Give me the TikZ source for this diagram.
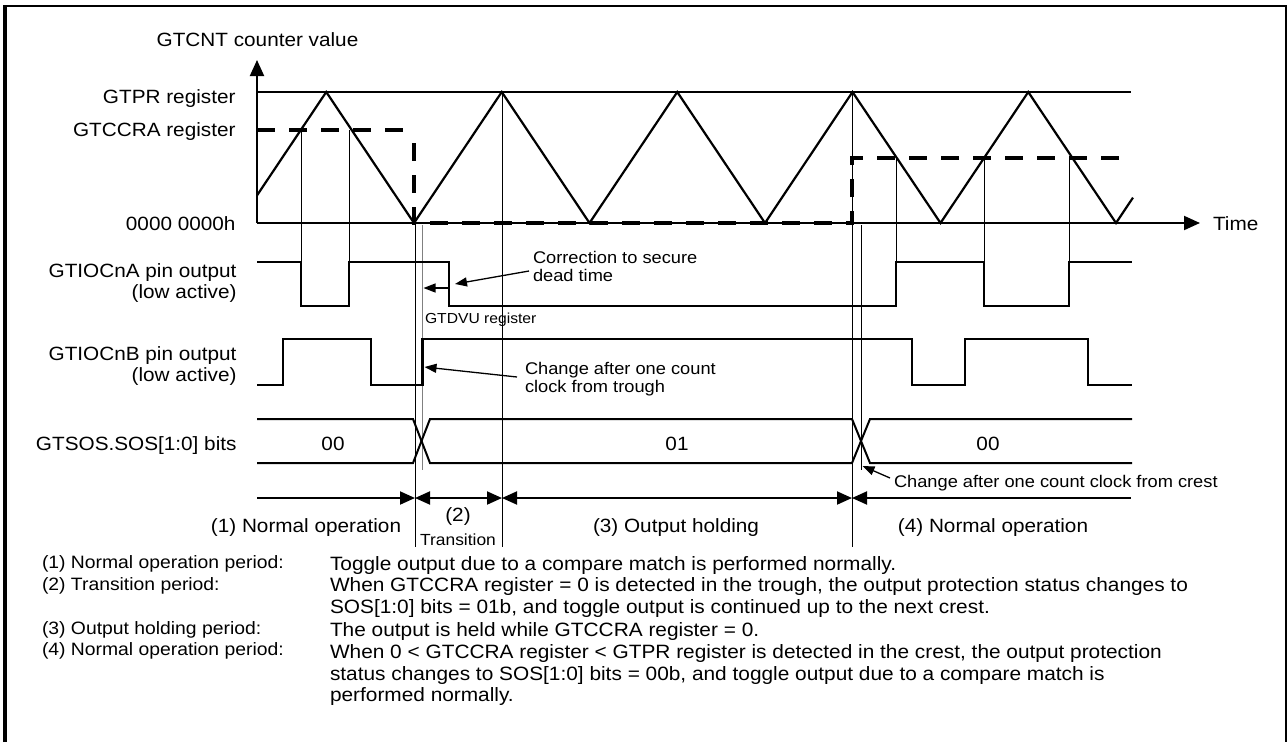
\documentclass[tikz,border=0pt]{standalone}
\usepackage{fontspec}
\setmainfont{Liberation Sans}[FakeStretch=1.08]
\usetikzlibrary{arrows.meta}
\newcommand\myfs[2]{\fontsize{#1}{#2}\selectfont}
\tikzset{dtip/.tip={Triangle[length=15pt,width=13pt]}}
\begin{document}
\begin{tikzpicture}[x=1pt,y=-1pt,
  every node/.style={inner sep=0pt, outer sep=0pt},
  lbl/.style={font=\myfs{19.2}{20.7}},
  ann/.style={font=\myfs{16.9}{17.7}},
  sml/.style={font=\myfs{14.5}{16}},
  trn/.style={font=\myfs{16.1}{17}},
  txtl/.style={font=\myfs{17.9}{21.9}},
  txt/.style={font=\myfs{19.3}{21.9}},
  wave/.style={line width=2.4pt, line join=miter},
  sos/.style={line width=2pt, line join=miter},
  fine/.style={line width=1pt},
  dsh/.style={line width=4.6pt, dash pattern=on 18pt off 14pt},
  axis/.style={line width=2pt, -{Triangle[length=16pt,width=14pt]}},
  dim/.style={line width=1.9pt},
  pointer/.style={line width=1.3pt, -{Triangle[length=12pt,width=9pt]}},
]
\useasboundingbox (0,0) rectangle (1288,742);

% frame
\draw[line width=3.3pt] (5,742) -- (5,6.2);
\draw[line width=2.4pt] (3.35,6.2) -- (1286.5,6.2);
\draw[line width=2pt] (1285.5,5) -- (1285.5,742);

% axes
\coordinate (O) at (257,223);
\coordinate (Ytop) at (257,60);
\coordinate (Xend) at (1200,223);
\draw[axis] (O) -- (Ytop);
\draw[axis] (O) -- (Xend);

% GTPR level
\coordinate (prA) at (257,92);
\coordinate (prB) at (1131,92);
\draw[line width=1.8pt] (prA) -- (prB);

% labels left
\node[lbl, anchor=base] (ylab) at (257.5,46.7) {GTCNT counter value};
\node[lbl, anchor=base east] (gtpr) at (235.5,103.3) {GTPR register};
\node[lbl, anchor=base east] (gtccra) at (235.5,136.5) {GTCCRA register};
\node[lbl, anchor=base east] (zero) at (235.5,230) {0000 0000h};
\node[lbl, anchor=base west] (time) at (1213,230.7) {Time};
\node[lbl, anchor=base east] (a1) at (236.5,277.7) {GTIOCnA pin output};
\node[lbl, anchor=base east] (a2) at (236.5,298.3) {(low active)};
\node[lbl, anchor=base east] (b1) at (236.5,360.7) {GTIOCnB pin output};
\node[lbl, anchor=base east] (b2) at (236.5,381.7) {(low active)};
\node[lbl, anchor=base east] (s1) at (236.5,450.7) {GTSOS.SOS[1:0] bits};

% triangle counter
\draw[line width=2.2pt, line join=miter] (257,195.4) -- (326.25,92) -- (414,223) -- (501.75,92)
  -- (589.5,223) -- (677.25,92) -- (765,223) -- (852.5,92) -- (940.5,223)
  -- (1028.25,92) -- (1116,223) -- (1133,197.6);

% GTCCRA compare level (dashed)
\draw[dsh] (257,130) -- (405,130);
\draw[dsh, line join=miter] (414,143) -- (414,223) -- (852,223) -- (852,158) -- (1131,158);

% thin marker lines
\draw[fine] (301,130) -- (301,262);
\draw[fine] (349,130) -- (349,262);
\draw[fine] (896,158) -- (896,262);
\draw[fine] (984,158) -- (984,262);
\draw[fine] (1069,158) -- (1069,262);
\draw[fine] (415,223) -- (415,546.5);
\draw[fine] (502,92) -- (502,546.5);
\draw[fine] (852,92) -- (852,546.5);
\draw[line width=1.2pt, black!50] (422.5,225) -- (422.5,470);
\draw[fine] (861.5,225) -- (861.5,470);

% GTIOCnA
\draw[wave] (257,262) -- (301,262) -- (301,306) -- (349,306) -- (349,262) -- (449,262)
  -- (449,306) -- (896,306) -- (896,262) -- (984,262) -- (984,306) -- (1069,306)
  -- (1069,262) -- (1132,262);

% GTIOCnB
\draw[wave] (257,385) -- (283,385) -- (283,339) -- (371,339) -- (371,385) -- (422.5,385)
  -- (422.5,339) -- (912,339) -- (912,385) -- (965,385) -- (965,339) -- (1088,339)
  -- (1088,385) -- (1132,385);

% GTSOS bits
\draw[sos] (257,419) -- (413,419) -- (430,463) -- (852,463) -- (870,419) -- (1132,419);
\draw[sos] (257,463) -- (413,463) -- (430,419) -- (852,419) -- (870,463) -- (1132,463);
\node[lbl, anchor=base] (v00a) at (333,450.7) {00};
\node[lbl, anchor=base] (v01) at (677,450.7) {01};
\node[lbl, anchor=base] (v00b) at (988,450.7) {00};

% annotations
\node[ann, anchor=base west] (corr1) at (533,263.3) {Correction to secure};
\node[ann, anchor=base west] (corr2) at (533,281) {dead time};
\coordinate (corrS) at (529,271);
\coordinate (corrT) at (455,284);
\draw[pointer] (corrS) -- (corrT);
\coordinate (dvS) at (449,288);
\coordinate (dvT) at (423.5,288);
\draw[pointer] (dvS) -- (dvT);
\node[sml, anchor=base west] (dvu) at (425,323.3) {GTDVU register};
\node[ann, anchor=base west] (tr1) at (525,374) {Change after one count};
\node[ann, anchor=base west] (tr2) at (525,392.7) {clock from trough};
\coordinate (trS) at (517,377);
\coordinate (trT) at (424.5,367);
\draw[pointer] (trS) -- (trT);
\node[ann, anchor=base west] (cr) at (894,487.3) {Change after one count clock from crest};
\coordinate (crS) at (890,478);
\coordinate (crT) at (862.5,466);
\draw[pointer] (crS) -- (crT);

% period dimension arrows
\coordinate (p0) at (257,498);
\coordinate (p1) at (415,498);
\coordinate (p2) at (502,498);
\coordinate (p3) at (852,498);
\coordinate (p4) at (1131,498);
\draw[dim, -dtip] (p0) -- (p1);
\draw[dim, dtip-dtip] (p1) -- (p2);
\draw[dim, dtip-dtip] (p2) -- (p3);
\draw[dim, dtip-] (p3) -- (p4);
\node[lbl, anchor=base] (n1) at (306,532.5) {(1) Normal operation};
\node[lbl, anchor=base] (n2a) at (458,521.7) {(2)};
\node[trn, anchor=base] (n2b) at (458,545.4) {Transition};
\node[lbl, anchor=base] (n3) at (676,532.5) {(3) Output holding};
\node[lbl, anchor=base] (n4) at (993,532.5) {(4) Normal operation};

% legend text
\node[txtl, anchor=base west] (l1) at (42,568.3) {(1) Normal operation period:};
\node[txtl, anchor=base west] (l2) at (42,590) {(2) Transition period:};
\node[txtl, anchor=base west] (l3) at (42,634) {(3) Output holding period:};
\node[txtl, anchor=base west] (l4) at (42,655) {(4) Normal operation period:};
\node[txt, anchor=base west] (r1) at (330,570) {Toggle output due to a compare match is performed normally.};
\node[txt, anchor=base west] (r2) at (330,591.7) {When GTCCRA register = 0 is detected in the trough, the output protection status changes to};
\node[txt, anchor=base west] (r3) at (330,613.5) {SOS[1:0] bits = 01b, and toggle output is continued up to the next crest.};
\node[txt, anchor=base west] (r4) at (330,636) {The output is held while GTCCRA register = 0.};
\node[txt, anchor=base west] (r5) at (330,658.3) {When 0 < GTCCRA register < GTPR register is detected in the crest, the output protection};
\node[txt, anchor=base west] (r6) at (330,680) {status changes to SOS[1:0] bits = 00b, and toggle output due to a compare match is};
\node[txt, anchor=base west] (r7) at (330,701.7) {performed normally.};
\end{tikzpicture}
\end{document}
